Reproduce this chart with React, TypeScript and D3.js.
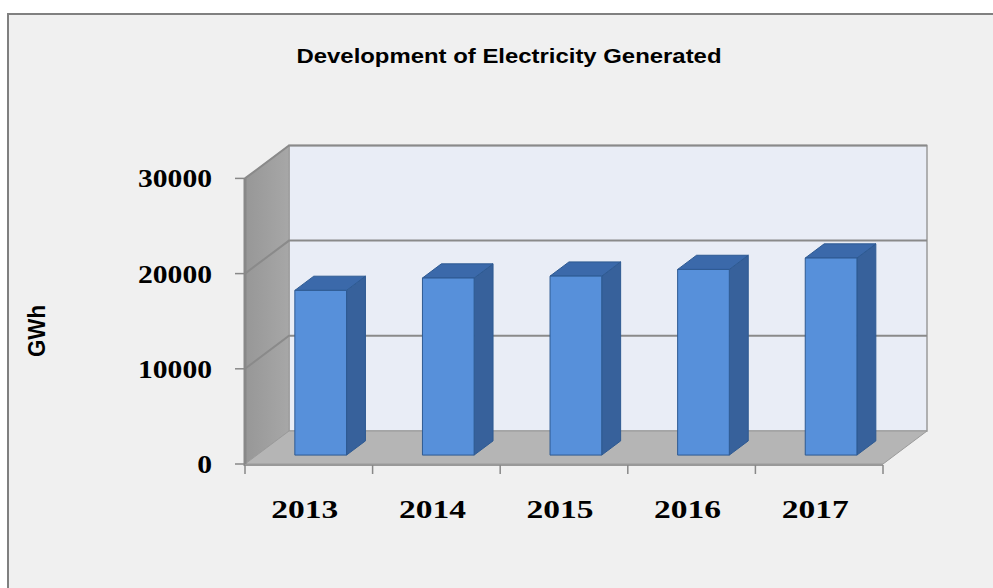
import React from "react";
import * as d3 from "d3";

const years = ["2013", "2014", "2015", "2016", "2017"];
const values = [17300, 18600, 18800, 19500, 20700];
const yTicks = [0, 10000, 20000, 30000];
const title = "Development of Electricity Generated";
const yTitle = "GWh";

const W = 993;
const H = 588;
const X0 = 245;
const X1 = 883;
const DX = 44;
const DY = -33;
const D0 = 0.27;
const D1 = 0.7;

export default function App() {
  const y = d3.scaleLinear().domain([0, 30000]).range([464, 178.4]);
  const x = d3
    .scaleBand<string>()
    .domain(years)
    .range([X0, X1])
    .paddingInner(0.595)
    .paddingOuter(0.2975);
  const xCat = d3.scaleBand<string>().domain(years).range([X0, X1]);

  const proj = (px: number, v: number, d: number): [number, number] => [
    px + d * DX,
    y(v) + d * DY,
  ];
  const poly = (pts: [number, number][]) =>
    pts.map((p) => p.map((n) => n.toFixed(2)).join(",")).join(" ");

  const yMax = 30000;
  const backWall = poly([proj(X0, 0, 1), proj(X1, 0, 1), proj(X1, yMax, 1), proj(X0, yMax, 1)]);
  const leftWall = poly([proj(X0, 0, 0), proj(X0, 0, 1), proj(X0, yMax, 1), proj(X0, yMax, 0)]);
  const floor = poly([proj(X0, 0, 0), proj(X1, 0, 0), proj(X1, 0, 1), proj(X0, 0, 1)]);

  return (
    <svg width={W} height={H} style={{ display: "block", position: "absolute", left: 0, top: 0 }}>
      <defs>
        <linearGradient id="lw" x1="0" x2="1" y1="0" y2="0">
          <stop offset="0" stopColor="#979797" />
          <stop offset="1" stopColor="#a7a7a7" />
        </linearGradient>
      </defs>
      <rect x={0} y={0} width={W} height={H} fill="#ffffff" />
      <rect x={8} y={14} width={W + 20} height={H + 20} fill="#f0f0f0" stroke="#808080" strokeWidth={2} />

      <text
        x={509}
        y={63}
        textAnchor="middle"
        fontFamily="Liberation Sans, Arial, sans-serif"
        fontWeight="bold"
        fontSize={20}
        textLength={425}
        lengthAdjust="spacingAndGlyphs"
        fill="#000"
      >
        {title}
      </text>

      <polygon points={backWall} fill="#e9edf6" stroke="#9a9a9a" strokeWidth={1.5} />
      <polygon points={leftWall} fill="url(#lw)" stroke="#999" strokeWidth={1} />
      <polygon points={floor} fill="#b5b5b5" stroke="#9a9a9a" strokeWidth={1} />

      {yTicks.filter((t) => t > 0).map((t) => {
        const a = proj(X0, t, 0);
        const b = proj(X0, t, 1);
        const c = proj(X1, t, 1);
        return (
          <polyline
            key={"g" + t}
            points={poly([a, b, c])}
            fill="none"
            stroke="#8a8a8a"
            strokeWidth={2}
          />
        );
      })}

      {/* y axis */}
      <line x1={X0} x2={X0} y1={y(0) + 2} y2={y(yMax)} stroke="#888" strokeWidth={3} />
      {yTicks.map((t) => (
        <g key={"yt" + t}>
          <line x1={X0 - 10} x2={X0} y1={y(t)} y2={y(t)} stroke="#888" strokeWidth={1.5} />
          <text
            x={212}
            y={y(t) + 9}
            textAnchor="end"
            fontFamily="Liberation Serif, Times New Roman, serif"
            fontWeight="bold"
            fontSize={26}
            textLength={String(t).length * 14.8}
            lengthAdjust="spacingAndGlyphs"
            fill="#000"
          >
            {t}
          </text>
        </g>
      ))}

      {/* x axis */}
      <line x1={X0} x2={X1} y1={y(0) + 1} y2={y(0) + 1} stroke="#999" strokeWidth={2} />
      {[...years.map((c) => xCat(c) as number), X1].map((px, i) => (
        <line key={"xt" + i} x1={px} x2={px} y1={y(0) + 1} y2={y(0) + 10} stroke="#888" strokeWidth={1.5} />
      ))}
      {years.map((c) => (
        <text
          key={"xl" + c}
          x={(xCat(c) as number) + xCat.bandwidth() / 2 - 4}
          y={518}
          textAnchor="middle"
          fontFamily="Liberation Serif, Times New Roman, serif"
          fontWeight="bold"
          fontSize={26}
          textLength={67}
          lengthAdjust="spacingAndGlyphs"
          fill="#000"
        >
          {c}
        </text>
      ))}

      {/* bars */}
      {years.map((c, i) => {
        const xl = x(c) as number;
        const xr = xl + x.bandwidth();
        const v = values[i];
        const front = poly([proj(xl, 0, D0), proj(xr, 0, D0), proj(xr, v, D0), proj(xl, v, D0)]);
        const top = poly([proj(xl, v, D0), proj(xr, v, D0), proj(xr, v, D1), proj(xl, v, D1)]);
        const side = poly([proj(xr, 0, D0), proj(xr, 0, D1), proj(xr, v, D1), proj(xr, v, D0)]);
        return (
          <g key={"b" + c} stroke="#2e5a92" strokeWidth={1} strokeLinejoin="round">
            <polygon points={side} fill="#37619b" />
            <polygon points={top} fill="#3b69aa" />
            <polygon points={front} fill="#5790da" />
          </g>
        );
      })}

      <text
        transform="translate(45,331) rotate(-90)"
        textAnchor="middle"
        fontFamily="Liberation Sans, Arial, sans-serif"
        fontWeight="bold"
        fontSize={23}
        textLength={52}
        lengthAdjust="spacingAndGlyphs"
        fill="#000"
      >
        {yTitle}
      </text>
    </svg>
  );
}
